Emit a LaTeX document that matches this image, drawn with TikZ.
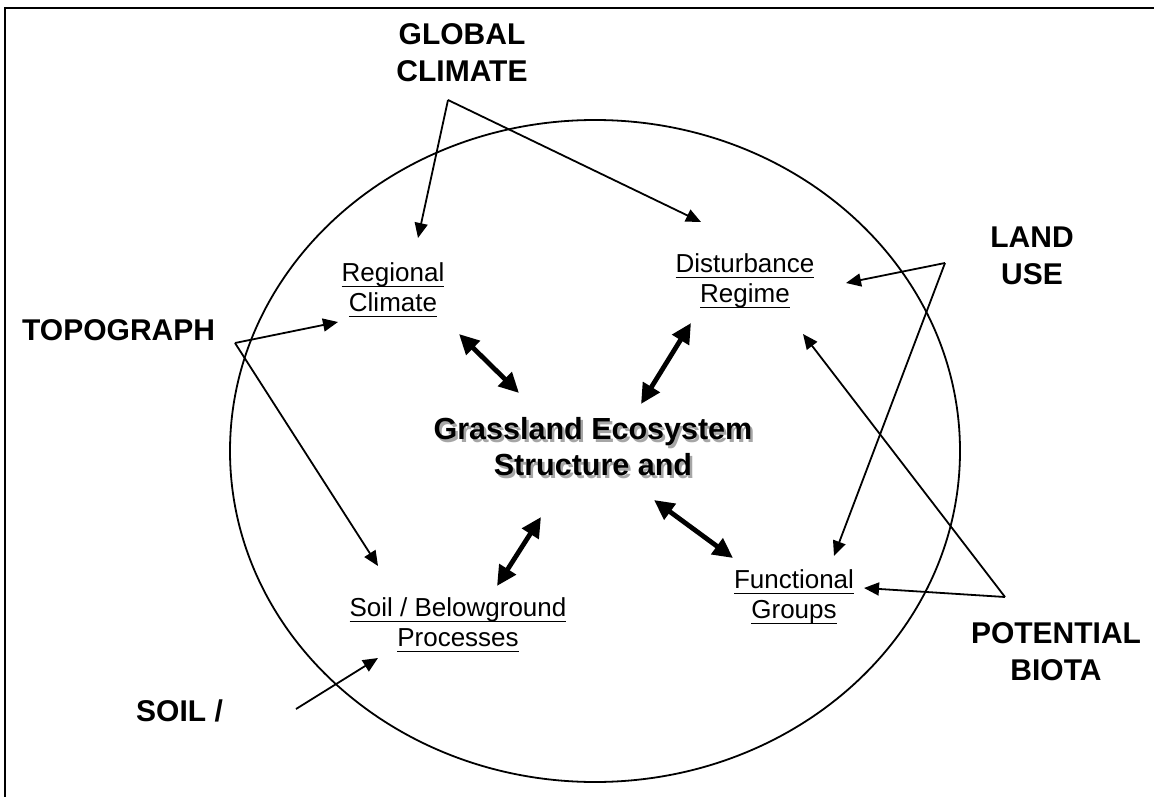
\documentclass[tikz,border=0pt]{standalone}
\usepackage{fontspec}
\setmainfont{Liberation Sans}
\usetikzlibrary{arrows.meta}
\newcommand{\shd}[1]{\leavevmode\rlap{\kern2.5pt\raisebox{-2.5pt}{\textcolor{black!35}{#1}}}#1}
\newcommand{\myul}[1]{\setbox0\hbox{#1}\leavevmode\rlap{\rule[-5.5pt]{\wd0}{1.6pt}}\box0}
\begin{document}
\begin{tikzpicture}[x=1pt,y=-1pt,
  big/.style={font=\fontsize{30}{37}\selectfont\bfseries, align=center, inner sep=0pt},
  lab/.style={font=\fontsize{26}{30}\selectfont, align=center, inner sep=0pt},
  thin/.style={line width=1.8pt, -{Triangle[length=15pt,width=13pt]}},
  thick/.style={line width=4.8pt, {Triangle[length=20pt,width=19pt]}-{Triangle[length=20pt,width=19pt]}}]
\useasboundingbox (0,0) rectangle (1154,797);
\clip (0,0) rectangle (1154,797);
% frame
\draw[line width=2.2pt] (5,820) -- (5,8) -- (1170,8);
% ellipse
\draw[line width=1.8pt] (595,451) ellipse [x radius=365, y radius=331];
% outer labels
\node[big] (global) at (462,53) {GLOBAL\\CLIMATE};
\node[big] (land) at (1032,256) {LAND\\USE};
\node[big] (biota) at (1056,652) {POTENTIAL\\BIOTA};
\node[big, anchor=base west] (topo) at (22,340) {TOPOGRAPH};
\node[big, anchor=base west] (soil) at (136,721) {SOIL /};
% center text with shadow
\node[font=\fontsize{30.5}{36}\selectfont\bfseries, align=center, inner sep=0pt] (ct) at (593,448) {\shd{Grassland Ecosystem}\\\shd{Structure and}};
% inner labels
\node[lab] (reg) at (393,290) {\myul{Regional}\\\myul{Climate}};
\node[lab] (dist) at (745,281) {\myul{Disturbance}\\\myul{Regime}};
\node[lab] (func) at (794,597) {\myul{Functional}\\\myul{Groups}};
\node[lab] (sbp) at (458,625) {\myul{Soil / Belowground}\\\myul{Processes}};
% apex and tip coordinates
\coordinate (gA) at (448,100);
\coordinate (gT1) at (418,238);
\coordinate (gT2) at (701,222);
\coordinate (lA) at (945,263);
\coordinate (lT1) at (846,283);
\coordinate (lT2) at (834,556);
\coordinate (pA) at (1005,597);
\coordinate (pT1) at (864,588);
\coordinate (pT2) at (803,334);
\coordinate (tA) at (235,343);
\coordinate (tT1) at (338,322);
\coordinate (tT2) at (378,566);
\coordinate (sS) at (296,709);
\coordinate (sT) at (378,658);
% thin arrows
\draw[thin] (gA) -- (gT1);
\draw[thin] (gA) -- (gT2);
\draw[thin] (lA) -- (lT1);
\draw[thin] (lA) -- (lT2);
\draw[thin] (pA) -- (pT1);
\draw[thin] (pA) -- (pT2);
\draw[thin] (tA) -- (tT1);
\draw[thin] (tA) -- (tT2);
\draw[thin] (sS) -- (sT);
% thick double arrows
\coordinate (r1) at (459,334);
\coordinate (r2) at (519,393);
\coordinate (d1) at (691,323);
\coordinate (d2) at (641,404);
\coordinate (s1) at (541,517);
\coordinate (s2) at (497,586);
\coordinate (f1) at (654,500);
\coordinate (f2) at (733,558);
\draw[thick] (r1) -- (r2);
\draw[thick] (d1) -- (d2);
\draw[thick] (s1) -- (s2);
\draw[thick] (f1) -- (f2);
\end{tikzpicture}
\end{document}
